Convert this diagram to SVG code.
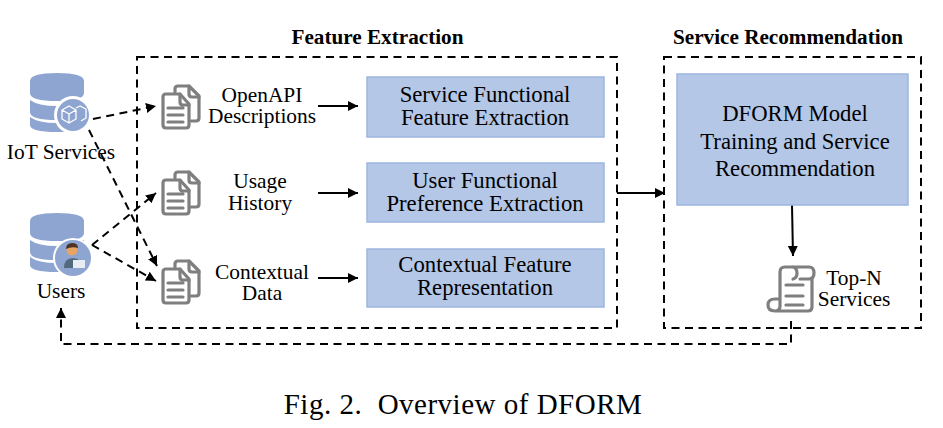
<svg xmlns="http://www.w3.org/2000/svg" width="943" height="428" viewBox="0 0 943 428">
<style>
text{font-family:"Liberation Serif","Times New Roman",serif;fill:#000;text-anchor:middle}
.t{font-size:22.7px}.l{font-size:21.4px}.b{font-size:21.2px;font-weight:bold}
.box{fill:#b4c7e7;stroke:#9db6df;stroke-width:1.5}
.dash{fill:none;stroke:#000;stroke-width:2;stroke-dasharray:8 5.5}
.solid{fill:none;stroke:#000;stroke-width:2}
.doc{fill:none;stroke:#7f7f7f;stroke-width:3.2;stroke-linejoin:round;stroke-linecap:round}
.db{fill:#8ea5d1}
</style>
<defs>
<marker id="a" markerUnits="userSpaceOnUse" markerWidth="12" markerHeight="12" refX="10" refY="5" orient="auto"><path d="M0 0L10 5L0 10z" fill="#000"/></marker>
<g id="docs">
<path class="doc" d="M175 92V89q0-3 3-3h11l10 10v22q0 3-3 3h-5"/>
<path class="doc" d="M189 86v8q0 3 3 3h7"/>
<path class="doc" d="M166 94h14l9 10v21q0 3-3 3h-20q-3 0-3-3V97q0-3 3-3z"/>
<path class="doc" d="M180 94v8q0 3 3 3h6M168 108h15M168 115h15M168 122h15"/>
</g>
<g id="cyl">
<path class="db" d="M30 81q0-8 27-8t27 8v12q0 8-27 8t-27-8z"/>
<path class="db" d="M30 100q8 6 27 6t27-6v12q0 8-27 8t-27-8z"/>
<path class="db" d="M30 117q8 6 27 6t27-6v8q0 7-27 7t-27-7z"/>
</g>
</defs>

<g id="connectors">
<path class="dash" d="M137 57H617V328H137z"/>
<path class="dash" d="M664 57H921V328H664z"/>
<path class="dash" d="M93 119L156 106" marker-end="url(#a)"/>
<path class="dash" d="M89 130L157 266" marker-end="url(#a)"/>
<path class="dash" d="M92 245L156 193" marker-end="url(#a)"/>
<path class="dash" d="M92 245L156 281" marker-end="url(#a)"/>
<path class="solid" d="M318 106H358" marker-end="url(#a)"/>
<path class="solid" d="M318 193H358" marker-end="url(#a)"/>
<path class="solid" d="M318 278H358" marker-end="url(#a)"/>
<path class="solid" d="M617 193H665" marker-end="url(#a)"/>
<path class="solid" d="M792 205L793 256" marker-end="url(#a)"/>
<path class="dash" d="M791 321V344H61V308" marker-end="url(#a)"/>
</g>

<g id="iot-services">
<use href="#cyl"/>
<circle cx="73" cy="115" r="19" fill="#fff"/>
<circle cx="73" cy="115" r="16" fill="#8ea5d1"/>
<path d="M62 110l7-4 7 4v9l-7 4-7-4zM62 110l7 4 7-4M69 114v9M76 108l4-2 6 3v9l-5 3" fill="none" stroke="#fff" stroke-width="1.3" stroke-linejoin="round"/>
<text class="l" x="61" y="159">IoT Services</text>
</g>
<g id="users">
<use href="#cyl" y="140"/>
<circle cx="73" cy="258" r="20" fill="#fff"/>
<circle cx="73" cy="258" r="18" fill="#8ea5d1"/>
<path d="M64 268q0-10 9-10t9 10z" fill="#53697f"/>
<circle cx="72" cy="250" r="5.500" fill="#e8a463"/>
<path d="M66 249q0-6 6-6t6 5q-6-2-12 1z" fill="#4a3426"/>
<rect x="73" y="260" width="12" height="8" fill="#e8edf4"/>
<text class="l" x="61" y="298">Users</text>
</g>

<g id="openapi"><use href="#docs"/>
<text class="l" x="262" y="102">OpenAPI</text><text class="l" x="262" y="123">Descriptions</text></g>
<g id="usage"><use href="#docs" y="86"/>
<text class="l" x="260" y="188">Usage</text><text class="l" x="260" y="210">History</text></g>
<g id="contextual"><use href="#docs" y="175"/>
<text class="l" x="262" y="279">Contextual</text><text class="l" x="262" y="300">Data</text></g>

<g id="service-functional"><rect class="box" x="367" y="77" width="237" height="60"/>
<text class="t" x="485" y="102">Service Functional</text><text class="t" x="485" y="125">Feature Extraction</text></g>
<g id="user-functional"><rect class="box" x="367" y="163" width="237" height="59"/>
<text class="t" x="485" y="188">User Functional</text><text class="t" x="485" y="211">Preference Extraction</text></g>
<g id="contextual-feature"><rect class="box" x="367" y="249" width="237" height="58"/>
<text class="t" x="485" y="272">Contextual Feature</text><text class="t" x="485" y="295">Representation</text></g>
<g id="dform"><rect class="box" x="677" y="74" width="231" height="131"/>
<text class="t" x="795" y="121">DFORM Model</text><text class="t" x="795" y="149">Training and Service</text><text class="t" x="795" y="176">Recommendation</text></g>

<g id="top-n">
<path class="doc" d="M780 300V272q0-5 5-5h24q5 0 5 6t-5 6h-9M793 267q4 1 4 6t-4 6M780 300v6q0 5-5 5h33q4 0 4-4V279M775 311q-7 0-7-6t7-6h5M786 285h17M786 296h17M786 305h17" stroke-width="2.6"/>
<text class="l" x="854" y="285">Top-N</text><text class="l" x="854" y="306">Services</text>
</g>

<text class="b" x="377.500" y="44">Feature Extraction</text>
<text class="b" x="788" y="44">Service Recommendation</text>
<text x="463" y="414" style="font-size:29px;letter-spacing:.5px" xml:space="preserve">Fig. 2.  Overview of DFORM</text>
</svg>
